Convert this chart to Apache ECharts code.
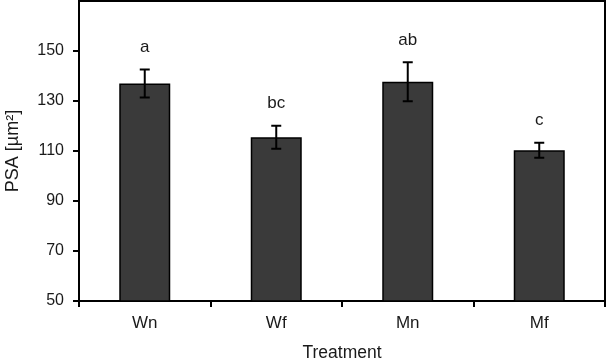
<!DOCTYPE html>
<html>
<head>
<meta charset="utf-8">
<script src="https://cdn.jsdelivr.net/npm/echarts@6/dist/echarts.min.js"></script>
<style>
  html, body { margin: 0; padding: 0; background: #fff; }
  #main { width: 606px; height: 358px; }
</style>
</head>
<body>
<div id="main"></div>
<script>
// treatments and measured values
const categories = ['Wn', 'Wf', 'Mn', 'Mf'];
const means = [137, 115.5, 137.7, 110.3];
const errors = [5.6, 4.6, 7.8, 3];
const letters = ['a', 'bc', 'ab', 'c'];

const chart = echarts.init(document.getElementById('main'), null, { renderer: 'canvas' });

const font = 'Liberation Sans, Arial, sans-serif';
const textColor = '#1a1a1a';

// error bars + significance letters
function renderErr(params, api) {
  const i = api.value(0);
  const m = api.value(1);
  const e = api.value(2);
  const top = api.coord([i, m + e]);
  const bot = api.coord([i, m - e]);
  const cap = 5;
  const st = { stroke: '#000', lineWidth: 2 };
  return {
    type: 'group',
    children: [
      { type: 'line', shape: { x1: top[0], y1: top[1], x2: bot[0], y2: bot[1] }, style: st },
      { type: 'line', shape: { x1: top[0] - cap, y1: top[1], x2: top[0] + cap, y2: top[1] }, style: st },
      { type: 'line', shape: { x1: bot[0] - cap, y1: bot[1], x2: bot[0] + cap, y2: bot[1] }, style: st },
      {
        type: 'text',
        x: top[0], y: top[1] - 22,
        style: {
          text: letters[i],
          fill: textColor,
          font: '17px ' + font,
          align: 'center',
          verticalAlign: 'middle'
        }
      }
    ]
  };
}

const option = {
  animation: false,
  textStyle: { fontFamily: font },
  grid: {
    left: 79,
    right: 1,
    top: 1,
    height: 300,
    containLabel: false,
    outerBoundsMode: 'none',
    show: true,
    borderColor: '#000',
    borderWidth: 2
  },
  xAxis: {
    type: 'category',
    data: categories,
    name: 'Treatment',
    nameLocation: 'middle',
    nameGap: 43,
    nameTextStyle: { fontSize: 17.5, color: textColor },
    axisLine: { lineStyle: { color: '#000', width: 2 } },
    axisTick: { show: true, length: 6, lineStyle: { color: '#000', width: 2 } },
    axisLabel: { fontSize: 17, color: textColor, margin: 14 }
  },
  yAxis: {
    type: 'value',
    min: 50,
    max: 170,
    interval: 20,
    name: 'PSA [µm²]',
    nameLocation: 'middle',
    nameGap: 57,
    nameTextStyle: { fontSize: 18, color: textColor },
    splitLine: { show: false },
    axisLine: { show: true, lineStyle: { color: '#000', width: 2 } },
    axisTick: { show: true, length: 6, lineStyle: { color: '#000', width: 2 } },
    axisLabel: { fontSize: 16, color: textColor, margin: 15, showMaxLabel: false }
  },
  series: [
    {
      type: 'bar',
      data: means,
      barWidth: 51,
      itemStyle: { color: '#3a3a3a', borderColor: '#000', borderWidth: 1.5 }
    },
    {
      type: 'custom',
      renderItem: renderErr,
      data: means.map((m, i) => [i, m, errors[i]]),
      z: 10
    }
  ]
};

chart.setOption(option);
</script>
</body>
</html>
